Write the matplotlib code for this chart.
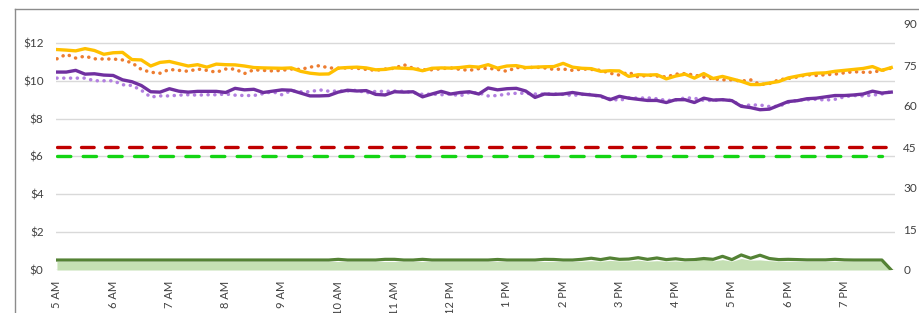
import numpy as np
import matplotlib
matplotlib.use("Agg")
import matplotlib.pyplot as plt
from matplotlib.lines import Line2D

plt.rcParams['font.family'] = ['Lato', 'DejaVu Sans']

# DATA (10-minute readings, 5:00 AM to 7:50 PM)
hour_labels = ["5 AM", "6 AM", "7 AM", "8 AM", "9 AM", "10 AM", "11 AM", "12 PM",
               "1 PM", "2 PM", "3 PM", "4 PM", "5 PM", "6 PM", "7 PM"]

price_gold = [11.65, 11.62, 11.58, 11.70, 11.60, 11.40, 11.48, 11.50, 11.12, 11.10,
              10.78, 10.97, 11.02, 10.90, 10.78, 10.85, 10.72, 10.88, 10.85, 10.84,
              10.78, 10.70, 10.68, 10.67, 10.66, 10.68, 10.50, 10.40, 10.35, 10.36,
              10.67, 10.70, 10.72, 10.68, 10.58, 10.60, 10.68, 10.66, 10.64, 10.53,
              10.66, 10.68, 10.67, 10.70, 10.76, 10.72, 10.85, 10.67, 10.78, 10.80,
              10.70, 10.72, 10.74, 10.75, 10.92, 10.72, 10.66, 10.64, 10.50, 10.53,
              10.52, 10.23, 10.32, 10.30, 10.32, 10.10, 10.25, 10.35, 10.14, 10.38,
              10.12, 10.23, 10.10, 9.97, 9.80, 9.80, 9.88, 9.96, 10.15, 10.25,
              10.34, 10.40, 10.42, 10.50, 10.55, 10.60, 10.65, 10.75, 10.55, 10.70]

price_orange = [11.16, 11.40, 11.20, 11.30, 11.16, 11.15, 11.15, 11.10, 10.95, 10.60,
                10.45, 10.40, 10.60, 10.55, 10.50, 10.62, 10.55, 10.45, 10.62, 10.62,
                10.38, 10.58, 10.55, 10.52, 10.55, 10.62, 10.60, 10.72, 10.80, 10.68,
                10.66, 10.68, 10.66, 10.60, 10.55, 10.62, 10.66, 10.85, 10.66, 10.58,
                10.58, 10.64, 10.68, 10.60, 10.55, 10.64, 10.66, 10.60, 10.50, 10.70,
                10.68, 10.72, 10.68, 10.60, 10.62, 10.55, 10.62, 10.60, 10.55, 10.40,
                10.30, 10.45, 10.20, 10.30, 10.25, 10.20, 10.35, 10.38, 10.30, 10.20,
                10.10, 10.05, 10.05, 9.98, 10.05, 9.80, 9.85, 10.05, 10.12, 10.20,
                10.32, 10.28, 10.32, 10.35, 10.42, 10.48, 10.45, 10.45, 10.55, 10.67]

price_purple = [10.46, 10.46, 10.55, 10.35, 10.37, 10.30, 10.28, 10.05, 9.95, 9.75,
                9.42, 9.40, 9.58, 9.45, 9.40, 9.44, 9.44, 9.44, 9.38, 9.60,
                9.52, 9.55, 9.38, 9.45, 9.52, 9.50, 9.35, 9.20, 9.20, 9.22,
                9.40, 9.50, 9.46, 9.48, 9.28, 9.25, 9.42, 9.40, 9.42, 9.15,
                9.30, 9.44, 9.30, 9.38, 9.42, 9.30, 9.62, 9.52, 9.58, 9.60,
                9.46, 9.12, 9.30, 9.28, 9.30, 9.38, 9.30, 9.25, 9.20, 9.00,
                9.18, 9.08, 9.02, 8.96, 8.96, 8.85, 9.00, 9.00, 8.85, 9.08,
                8.98, 9.00, 8.95, 8.65, 8.58, 8.47, 8.50, 8.70, 8.90, 8.95,
                9.05, 9.08, 9.15, 9.22, 9.22, 9.25, 9.30, 9.45, 9.35, 9.40]

price_lilac = [10.14, 10.14, 10.14, 10.14, 10.00, 10.00, 10.00, 9.79, 9.75, 9.50,
               9.14, 9.20, 9.20, 9.24, 9.26, 9.24, 9.26, 9.26, 9.30, 9.24,
               9.22, 9.22, 9.32, 9.42, 9.26, 9.48, 9.42, 9.42, 9.52, 9.45,
               9.46, 9.46, 9.50, 9.36, 9.44, 9.44, 9.46, 9.44, 9.38, 9.28,
               9.30, 9.26, 9.30, 9.20, 9.38, 9.36, 9.20, 9.22, 9.30, 9.34,
               9.34, 9.30, 9.30, 9.30, 9.28, 9.22, 9.28, 9.28, 9.15, 9.05,
               8.96, 9.10, 9.08, 9.10, 9.05, 8.96, 8.98, 9.10, 9.08, 8.96,
               8.96, 9.00, 8.96, 8.68, 8.72, 8.72, 8.64, 8.65, 8.85, 8.98,
               9.00, 9.02, 8.98, 9.02, 9.15, 9.22, 9.20, 9.24, 9.30, 9.42]

limit_high = 6.5
limit_low = 6.0

# right-axis series
volume_line = [3.65] * 30 + [3.9, 3.65, 3.65, 3.65, 3.65, 3.9, 3.9, 3.65, 3.65, 3.9,
               3.65, 3.65, 3.65, 3.65, 3.65, 3.65, 3.65, 3.85, 3.65, 3.65,
               3.65, 3.65, 3.9, 3.85, 3.65, 3.65, 3.9, 4.3, 3.8, 4.4,
               3.9, 4.0, 4.5, 3.9, 4.4, 3.8, 4.1, 3.7, 3.8, 4.2,
               3.9, 5.0, 3.8, 5.5, 4.3, 5.4, 4.2, 3.8, 3.9, 3.8,
               3.7, 3.7, 3.7, 3.9, 3.7, 3.65, 3.65, 3.65, 3.65, 0.0]

volume_area = [3.1] * 56 + [3.2, 3.4, 3.2, 3.5, 3.3, 3.3, 3.6, 3.2, 3.4, 3.2,
               3.3, 3.1, 3.3, 4.6, 3.3, 3.8, 3.2, 4.2, 3.6, 3.7, 3.4, 3.2, 3.2, 3.1,
               3.1, 3.1, 3.1, 3.2, 3.1, 3.1, 3.1, 3.1, 3.1, 0.0]

x = np.arange(len(price_gold))

fig = plt.figure(figsize=(9.19, 3.13), dpi=100)
ax = fig.add_axes([56 / 919, 43 / 313, 839 / 919, 246 / 313])
ax2 = ax.twinx()

# gridlines + limit lines
ax.set_ylim(0, 13)
ax.set_yticks([0, 2, 4, 6, 8, 10, 12])
ax.set_yticklabels(["$0", "$2", "$4", "$6", "$8", "$10", "$12"])
ax.grid(axis="y", color="#d9d9d9", linewidth=1.0)
ax.set_axisbelow(True)

ax.plot(x, [limit_high] * len(x), color="#c00000", linewidth=2.4,
        dashes=(3.8, 3.4), dash_capstyle="round")
ax.plot(x[:-1], [limit_low] * (len(x) - 1), color="#14d414", linewidth=2.4,
        dashes=(4.0, 3.7), dash_capstyle="round")

dot = (0, (0.05, 1.9))
ax.plot(x, price_orange, color="#ed7d31", linewidth=2.5, linestyle=dot,
        dash_capstyle="round")
ax.plot(x, price_gold, color="#ffc000", linewidth=2.4, solid_joinstyle="round")
ax.plot(x, price_lilac, color="#b27fe0", linewidth=2.5, linestyle=dot,
        dash_capstyle="round")
ax.plot(x, price_purple, color="#7030a0", linewidth=2.4, solid_joinstyle="round")

ax2.fill_between(x, volume_area, color="#c5e0b4", linewidth=0)
ax2.plot(x, volume_line, color="#548235", linewidth=2.3, solid_joinstyle="round")
ax2.set_ylim(0, 90)
ax2.set_yticks([0, 15, 30, 45, 60, 75, 90])

ax.set_xlim(-0.1, 89.4)
ax.set_xticks(np.arange(0, len(x), 6))
ax.set_xticklabels(hour_labels, rotation=90, va="top", ha="center")

for a in (ax, ax2):
    for s in a.spines.values():
        s.set_visible(False)
ax.tick_params(axis="y", length=0, labelsize=8.5, labelcolor="#404040", pad=9)
ax.tick_params(axis="x", length=0, labelsize=8, labelcolor="#404040", pad=8)
ax2.tick_params(axis="y", length=0, labelsize=8.5, labelcolor="#404040", pad=6)

# chart frame (partly cropped)
fig.add_artist(Line2D([15 / 919, 1], [304 / 313, 304 / 313], color="#8c8c8c",
                      linewidth=1.0, transform=fig.transFigure))
fig.add_artist(Line2D([15 / 919, 15 / 919], [0, 304 / 313], color="#8c8c8c",
                      linewidth=1.0, transform=fig.transFigure))

fig.savefig("out.png", dpi=100)
